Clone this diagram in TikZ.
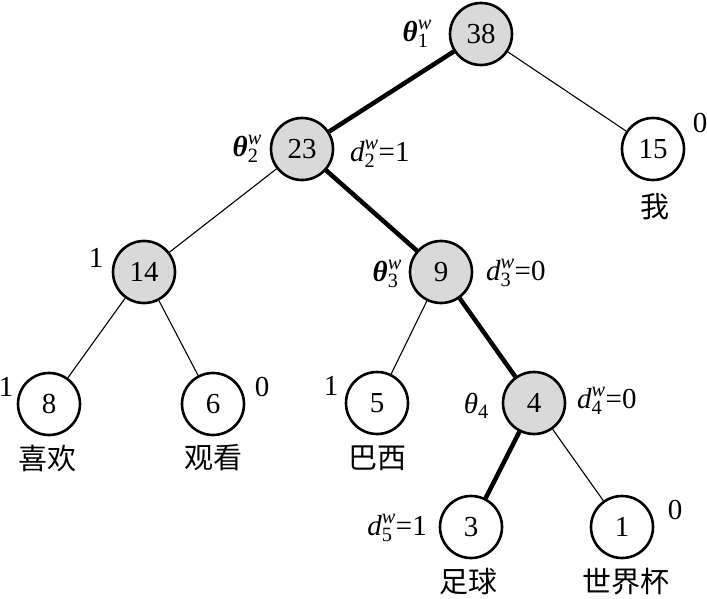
\documentclass[tikz,border=0pt]{standalone}
\usepackage{fontspec}
\usepackage{amsmath}
\setmainfont{Liberation Serif}
\newfontfamily\cjk{Noto Sans CJK SC}
\newcommand{\thw}[1]{$\textbf{\textit{θ}}_{\text{#1}}^{\textit{w}}$}
\newcommand{\dw}[2]{$\textit{d}_{\text{#1}}^{\textit{w}}$=#2}
\begin{document}
\begin{tikzpicture}[x=1pt,y=-1pt,
        every node/.style={font=\fontsize{29}{34}\selectfont,inner sep=0pt},
        inner/.style={circle,draw,line width=2.6pt,fill=black!15,minimum size=62pt},
        leaf/.style={circle,draw,line width=2.6pt,fill=white,minimum size=62pt},
        word/.style={font=\fontsize{29}{34}\selectfont\cjk},
        thin/.style={line width=1.1pt},
        thick/.style={line width=4.5pt}]
    \useasboundingbox (0,0) rectangle (707,599);
    % nodes
    \node[inner] (n38) at (481,34) {38};
    \node[inner] (n23) at (302,149) {23};
    \node[leaf]  (n15) at (653,149) {15};
    \node[inner] (n14) at (144,272) {14};
    \node[inner] (n9)  at (441,272) {9};
    \node[leaf]  (n8)  at (49,404) {8};
    \node[leaf]  (n6)  at (213,404) {6};
    \node[leaf]  (n5)  at (377,403) {5};
    \node[inner] (n4)  at (534,403) {4};
    \node[leaf]  (n3)  at (471,527) {3};
    \node[leaf]  (n1)  at (622,527) {1};
    % edges
    \draw[thick] (n38) -- (n23);
    \draw[thick] (n23) -- (n9);
    \draw[thick] (n9) -- (n4);
    \draw[thick] (n4) -- (n3);
    \draw[thin] (n38) -- (n15);
    \draw[thin] (n23) -- (n14);
    \draw[thin] (n14) -- (n8);
    \draw[thin] (n14) -- (n6);
    \draw[thin] (n9) -- (n5);
    \draw[thin] (n4) -- (n1);
    % labels
    \node[anchor=east] (t1) at (432,34) {\thw{1}};
    \node[anchor=east] (t2) at (262,149) {\thw{2}};
    \node[anchor=east] (t3) at (402,274) {\thw{3}};
    \node[anchor=east] (t4) at (489,406) {$\textit{θ}_{\text{4}}$};
    \node[anchor=west] (d2) at (350,154) {\dw{2}{1}};
    \node[anchor=west] (d3) at (486,273) {\dw{3}{0}};
    \node[anchor=west] (d4) at (577,401) {\dw{4}{0}};
    \node[anchor=east] (d5) at (427,528) {\dw{5}{1}};
    \node (b15) at (700,123) {0};
    \node (b14) at (96,258) {1};
    \node (b8)  at (6,387) {1};
    \node (b6)  at (262,387) {0};
    \node (b5)  at (331,386) {1};
    \node (b1)  at (675,510) {0};
    \node[word] (w15) at (655,207) {我};
    \node[word] (w8)  at (47,458) {喜欢};
    \node[word] (w6)  at (213,458) {观看};
    \node[word] (w5)  at (377,458) {巴西};
    \node[word] (w3)  at (468,582) {足球};
    \node[word] (w1)  at (626,582) {世界杯};
\end{tikzpicture}
\end{document}
